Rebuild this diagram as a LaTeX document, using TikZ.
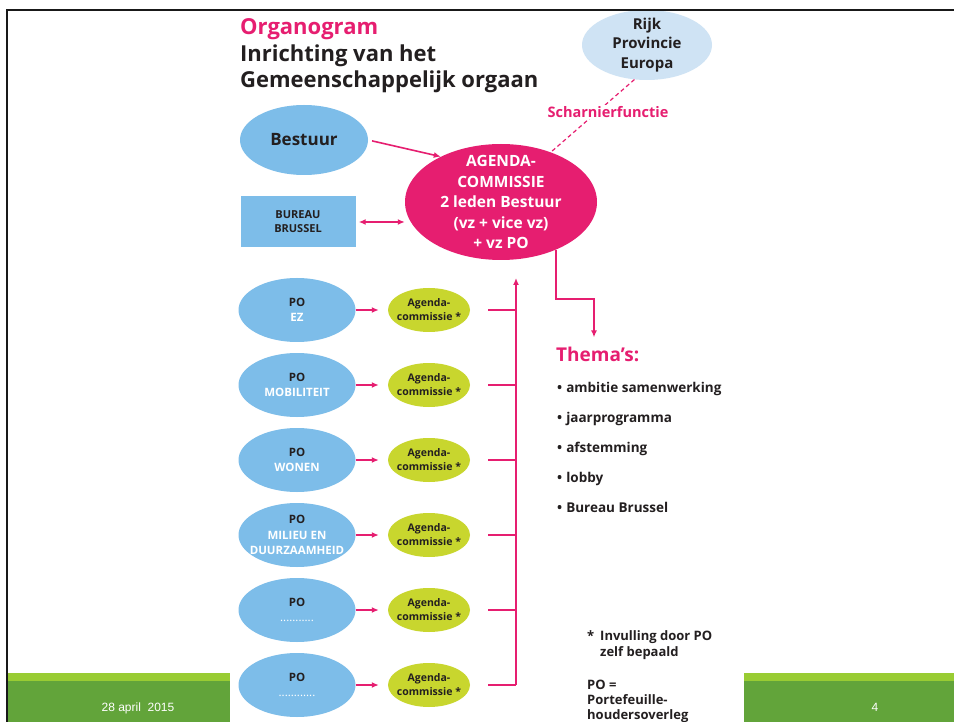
\documentclass[tikz,border=0pt]{standalone}
\usepackage{fontspec}
\setmainfont{Open Sans}
\newfontfamily\footfont{Liberation Sans}
\usetikzlibrary{shapes.geometric, arrows.meta, positioning}
\definecolor{orgpink}{RGB}{230,30,112}
\definecolor{orgblue}{RGB}{125,189,233}
\definecolor{orgpale}{RGB}{207,227,244}
\definecolor{orglime}{RGB}{200,214,46}
\definecolor{orgtext}{RGB}{35,31,32}
\definecolor{footlight}{RGB}{153,204,51}
\definecolor{footdark}{RGB}{98,164,58}
\newcommand{\fsz}[2]{\bfseries\fontsize{#1}{#2}\selectfont}

\tikzset{
  bubble/.style={ellipse, inner sep=0pt},
  po/.style={bubble, fill=orgblue, minimum width=117pt, minimum height=64pt},
  potext/.style={align=center, inner sep=0pt, text=white, font=\fsz{11.5}{15.5}},
  subagenda/.style={bubble, fill=orglime, minimum width=82pt, minimum height=44pt},
  subtext/.style={align=center, inner sep=0pt, text=orgtext, font=\fsz{10.5}{14}},
  pinkline/.style={draw=orgpink, line width=1.6pt},
  link/.style={pinkline, -{Latex[length=7pt,width=6pt]}},
  plain/.style={anchor=base west, inner sep=0pt, text=orgtext},
  foottext/.style={anchor=base, inner sep=0pt, text=white, font=\footfont\fontsize{12}{14}\selectfont}
}

\begin{document}
\begin{tikzpicture}[x=1pt, y=-1pt]
  \useasboundingbox (0,0) rectangle (954,722);
  \fill[white] (0,0) rectangle (954,722);

  % footer bands
  \fill[footlight] (7,673) rectangle (230,681);
  \fill[footdark] (7,681) rectangle (230,722);
  \fill[footlight] (744,673) rectangle (954,681);
  \fill[footdark] (744,681) rectangle (954,722);
  \node[foottext] (date) at (138,711) {28 april~ 2015};
  \node[foottext] (pagenr) at (875,711) {4};

  % title
  \node[plain, text=orgpink, font=\fsz{22}{26}] (title) at (240,35) {Organogram};
  \node[plain, font=\fsz{22}{26}] (title2) at (240,62) {Inrichting van het};
  \node[plain, font=\fsz{22}{26}] (title3) at (240,88) {Gemeenschappelijk orgaan};

  % top part
  \node[bubble, fill=orgpale, minimum width=130pt, minimum height=70pt] (rijk) at (647,45) {};
  \node[align=center, inner sep=0pt, text=orgtext, font=\fsz{15}{19.5}] (rijktext) at (rijk.center) {Rijk\\Provincie\\Europa};
  \node[bubble, fill=orgpink, minimum width=192pt, minimum height=116pt] (agenda) at (501,202) {};
  \node[align=center, inner sep=0pt, text=white, font=\fsz{15.5}{20.5}] (agendatext) at (agenda.center) {AGENDA-\\COMMISSIE\\2 leden Bestuur\\(vz + vice vz)\\+ vz PO};
  \node[bubble, fill=orgblue, minimum width=128pt, minimum height=70pt, text=orgtext, font=\fsz{17}{20}] (bestuur) at (304,140) {Bestuur};
  \node[fill=orgblue, minimum width=115pt, minimum height=51pt, align=center, text=orgtext, font=\fsz{11}{14}] (bureau) at (298,222) {BUREAU\\BRUSSEL};

  \draw[pinkline, line width=1.2pt, dash pattern=on 4pt off 3pt] (rijk.250) -- (agenda.45);
  \node[fill=white, inner sep=1pt, text=orgpink, font=\fsz{14.5}{18}] (scharnier) at (608,112) {Scharnierfunctie};

  \draw[link, shorten <=4pt] (bestuur.east) -- (agenda.143);
  \draw[pinkline, {Latex[length=7pt,width=6pt]}-{Latex[length=7pt,width=6pt]}] ([xshift=3pt]bureau.east) -- (bureau.east -| agenda.west);

  % werkgroepen
  \coordinate (trunk) at (516,278);
  \foreach \lbl [count=\i] in {{EZ}, {MOBILITEIT}, {WONEN},
      {MILIEU EN\\DUURZAAMHEID}, {\textmd{...........}}, {\textmd{............}}} {
    \node[po] (po\i) at (297,{310+75*(\i-1)}) {};
    \node[potext] (potext\i) at (po\i.center) {\textcolor{orgtext}{PO}\\\lbl};
    \node[subagenda] (ag\i) at (429,{310+75*(\i-1)}) {};
    \node[subtext] (agtext\i) at (ag\i.center) {Agenda-\\commissie *};
    \draw[link, shorten >=9pt] (po\i.east) -- (ag\i.west);
    \draw[pinkline, shorten <=18pt] (ag\i.east) -- (ag\i.east -| trunk);
  }
  \draw[link] (trunk |- ag6.east) -- (trunk);

  % thema's
  \node[plain, text=orgpink, font=\fsz{19}{24}] (themas) at (556,362) {Thema’s:};
  \coordinate (elbow) at (594,299);
  \draw[link, shorten >=10pt] (agenda.-41) |- (elbow) -- (elbow |- themas.north);
  \foreach \topic [count=\i] in {ambitie samenwerking, jaarprogramma, afstemming, lobby, Bureau Brussel}
    \node[plain, font=\fsz{13.5}{18}] (thema\i) at (557,{392+30*(\i-1)}) {•\hspace{4pt}\topic};

  % notes
  \node[plain, font=\fsz{13}{16}] (star) at (587,640) {*};
  \node[plain, font=\fsz{13}{16}] (note1) at (600,640) {Invulling door PO};
  \node[plain, font=\fsz{13}{16}] (note2) at (600,656) {zelf bepaald};
  \node[plain, font=\fsz{13}{16}] (podef1) at (587,689) {PO =};
  \node[plain, font=\fsz{13}{16}] (podef2) at (587,704) {Portefeuille-};
  \node[plain, font=\fsz{13}{16}] (podef3) at (587,719) {houdersoverleg};

  % frame
  \draw[line width=2.5pt, black!90] (7,722) -- (7,10) -- (954,10);
\end{tikzpicture}
\end{document}
